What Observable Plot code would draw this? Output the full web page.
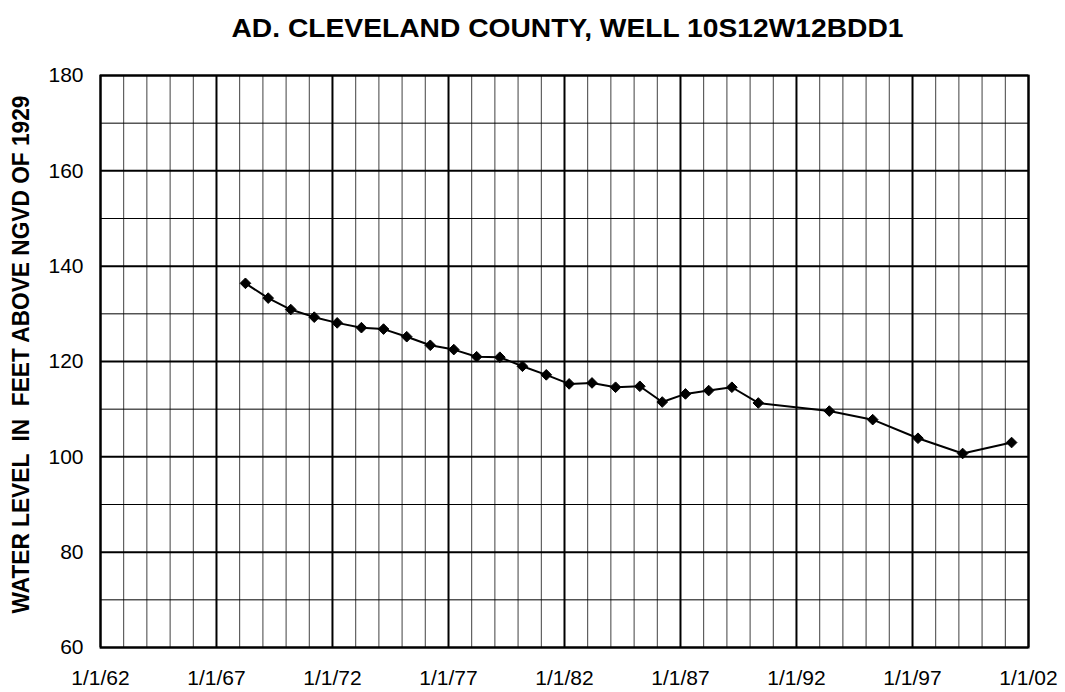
<!DOCTYPE html>
<html>
<head>
<meta charset="utf-8">
<script src="https://cdn.jsdelivr.net/npm/d3@7"></script>
<script src="https://cdn.jsdelivr.net/npm/@observablehq/plot@0.6"></script>
<style>
  body { margin: 0; background: #fff; }
  svg text { white-space: pre; }
</style>
</head>
<body>
<div id="chart"></div>
<script>
const title = "AD. CLEVELAND COUNTY, WELL 10S12W12BDD1";
const yLabel = "WATER LEVEL  IN  FEET ABOVE NGVD OF 1929";

const dates = [
  "1968-04-01","1969-03-25","1970-03-15","1971-03-20","1972-03-15","1973-04-01",
  "1974-03-15","1975-03-15","1976-03-20","1977-03-25","1978-03-20","1979-03-20",
  "1980-03-10","1981-03-20","1982-03-15","1983-03-10","1984-03-15","1985-04-01",
  "1986-03-20","1987-03-20","1988-03-20","1989-03-20","1990-05-10","1993-06-01",
  "1995-04-15","1997-03-28","1999-03-01","2001-04-10"
];
const levels = [
  136.4, 133.3, 130.9, 129.3, 128.1, 127.1,
  126.8, 125.2, 123.4, 122.5, 121.0, 120.9,
  119.0, 117.2, 115.3, 115.5, 114.6, 114.8,
  111.5, 113.2, 113.9, 114.6, 111.3, 109.6,
  107.8, 103.9, 100.7, 103.0
];

const xStart = new Date(Date.UTC(1962, 0, 1));
const xEnd = new Date(Date.UTC(2002, 0, 1));
const yMin = 60, yMax = 180;

const data = dates.map((d, i) => ({date: new Date(d + "T00:00:00Z"), level: levels[i]}));

const years = d3.range(1962, 2003).map(y => new Date(Date.UTC(y, 0, 1)));
const majorYears = years.filter(d => (d.getUTCFullYear() - 1962) % 5 === 0);
const minorYears = years.filter(d => (d.getUTCFullYear() - 1962) % 5 !== 0);
const yValues = d3.range(yMin, yMax + 1, 10);
const majorY = yValues.filter(v => v % 20 === 0);
const minorY = yValues.filter(v => v % 20 !== 0);

const fmt = d3.utcFormat("%-m/%-d/%y");

const chart = Plot.plot({
  width: 1065,
  height: 692,
  marginTop: 75,
  marginLeft: 100,
  marginRight: 37,
  marginBottom: 45,
  style: {fontFamily: "Arial, 'Liberation Sans', sans-serif", fontSize: "21px", color: "#000", background: "#fff"},
  x: {type: "utc", domain: [xStart, xEnd]},
  y: {domain: [yMin, yMax]},
  marks: [
    Plot.ruleX(minorYears, {stroke: "#000", strokeWidth: 1, strokeOpacity: 0.75}),
    Plot.ruleY(minorY, {stroke: "#000", strokeWidth: 1}),
    Plot.ruleX(majorYears, {stroke: "#000", strokeWidth: 2}),
    Plot.ruleY(majorY, {stroke: "#000", strokeWidth: 2}),
    Plot.frame({stroke: "#000", strokeWidth: 2}),
    Plot.axisX({ticks: majorYears, tickFormat: fmt, tickSize: 0, tickPadding: 23, fontSize: 21, label: null}),
    Plot.axisY({ticks: majorY, tickSize: 0, tickPadding: 17, fontSize: 21, label: null}),
    Plot.line(data, {x: "date", y: "level", stroke: "#000", strokeWidth: 2}),
    Plot.dot(data, {x: "date", y: "level", symbol: "diamond2", r: 4.8, fill: "#000", stroke: "#000", strokeWidth: 1}),
    Plot.text([title], {frameAnchor: "top", lineAnchor: "middle", dx: 3, dy: -47, fontSize: 26, fontWeight: "bold", fill: "#000"}),
    Plot.text([yLabel], {frameAnchor: "left", textAnchor: "middle", lineAnchor: "middle", dx: -79, dy: -7, rotate: -90, fontSize: 23, fontWeight: "bold", fill: "#000"})
  ]
});

const svg = d3.select(chart);
svg.selectAll("text").filter(function() { return this.textContent === title; })
  .attr("textLength", 672)
  .attr("lengthAdjust", "spacingAndGlyphs");
svg.selectAll("text").filter(function() { return this.textContent === yLabel; })
  .attr("textLength", 518)
  .attr("lengthAdjust", "spacingAndGlyphs");

document.getElementById("chart").append(chart);
</script>
</body>
</html>
